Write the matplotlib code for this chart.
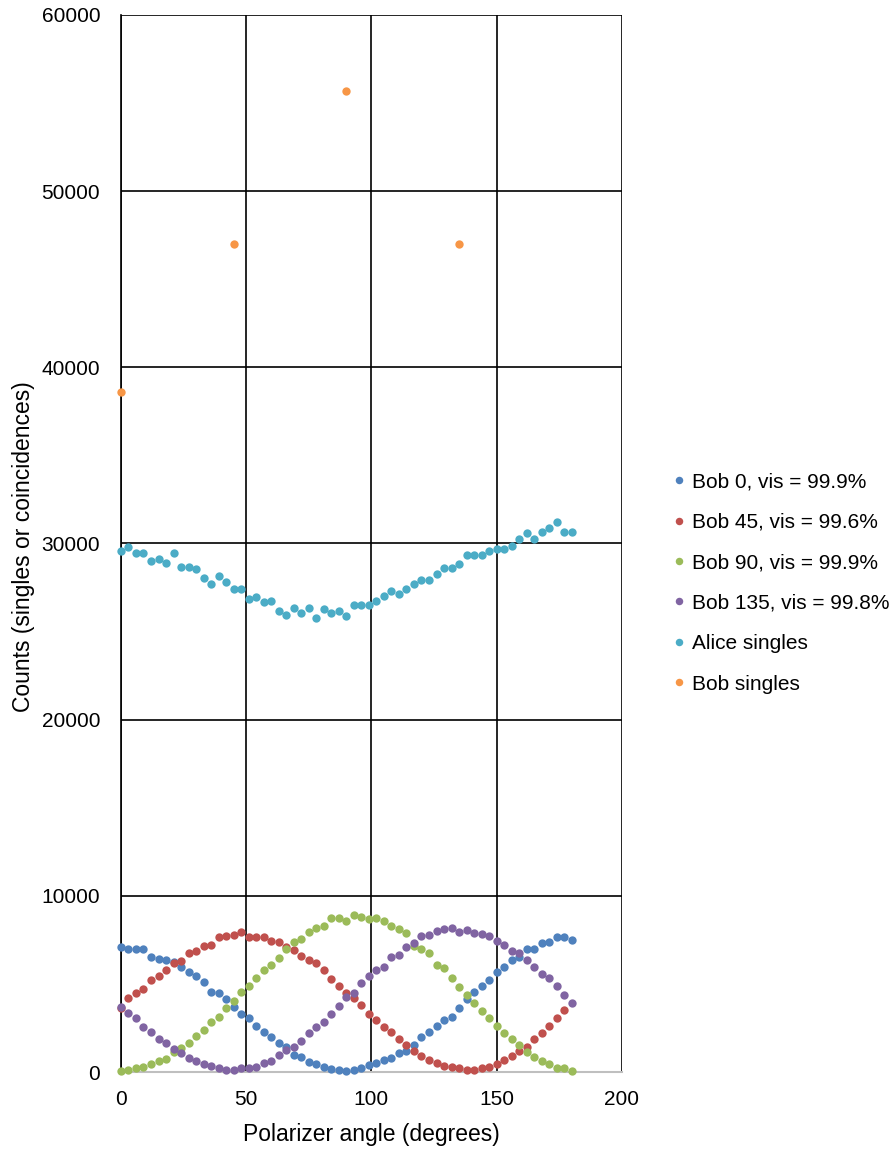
import numpy as np
import matplotlib.pyplot as plt

plt.rcParams['font.family'] = ['Liberation Sans', 'DejaVu Sans']

# Polarizer angles (degrees)
angle = np.arange(0, 181, 3)
angle_red = np.arange(0, 178, 3)
angle_bob_singles = [0, 45, 90, 135]

# Coincidence counts for each Bob setting
bob_0 = [7100, 6980, 6980, 6980, 6550, 6410, 6360, 6260, 5980, 5660, 5450, 5130, 4560, 4470, 4140, 3710, 3270,
         3050, 2610, 2290, 1970, 1630, 1440, 970, 870, 590, 440, 300, 170, 110, 80, 110, 245, 400,
         530, 680, 780, 1100, 1210, 1530, 1970, 2290, 2610, 2950, 3140, 3610, 4140, 4560, 4880, 5220, 5660,
         5980, 6360, 6540, 6960, 6960, 7340, 7400, 7640, 7640, 7490]
bob_45 = [3610, 4180, 4470, 4710, 5220, 5450, 5790, 6200, 6300, 6770, 6870, 7170, 7210, 7640, 7720, 7780, 7960,
          7680, 7640, 7640, 7430, 7400, 7110, 6920, 6600, 6360, 6170, 5790, 5260, 4880, 4470, 4180, 3800, 3270,
          2950, 2540, 2290, 1860, 1530, 1210, 910, 680, 530, 340, 265, 210, 115, 115, 210, 300, 450,
          680, 910, 1210, 1440, 1860, 2200, 2610, 3050, 3500]
bob_90 = [75, 115, 210, 300, 450, 625, 740, 1150, 1340, 1630, 2060, 2380, 2820, 3140, 3610, 4030, 4560,
          4880, 5320, 5790, 6070, 6450, 6980, 7400, 7530, 7960, 8190, 8300, 8720, 8720, 8590, 8910, 8810, 8670,
          8720, 8590, 8300, 8100, 7870, 7150, 6960, 6770, 6070, 5890, 5350, 4810, 4370, 3900, 3480, 3080, 2630,
          2200, 1860, 1530, 1150, 870, 625, 450, 210, 210, 75]
bob_135 = [3710, 3370, 3050, 2540, 2290, 1860, 1630, 1290, 1100, 780, 625, 450, 340, 210, 115, 115, 210,
           210, 300, 490, 625, 965, 1250, 1440, 1760, 2200, 2570, 2850, 3270, 3750, 4280, 4470, 5030, 5450,
           5790, 5980, 6540, 6640, 7110, 7340, 7720, 7780, 8000, 8100, 8160, 7960, 8060, 7870, 7830, 7740, 7430,
           7210, 6880, 6770, 6360, 5980, 5550, 5350, 4880, 4370, 3900]
alice_singles = [29570, 29810, 29440, 29440, 29020, 29110, 28900, 29440, 28680, 28680, 28550, 28020, 27700, 28150,
                 27830, 27400, 27400,
                 26830, 26940, 26690, 26730, 26160, 25940, 26320, 26070, 26320, 25780, 26260, 26030, 26180,
                 25880, 26500, 26500, 26500,
                 26750, 27030, 27300, 27130, 27400, 27700, 27920, 27920, 28250, 28590, 28590, 28810, 29340,
                 29340, 29340, 29570, 29680,
                 29680, 29870, 30230, 30570, 30230, 30660, 30860, 31200, 30660, 30660]
bob_singles = [38600, 47000, 55700, 47000]

series = [
    (angle, bob_0, '#4F81BD', 'Bob 0, vis = 99.9%'),
    (angle_red, bob_45, '#C0504D', 'Bob 45, vis = 99.6%'),
    (angle, bob_90, '#9BBB59', 'Bob 90, vis = 99.9%'),
    (angle, bob_135, '#8064A2', 'Bob 135, vis = 99.8%'),
    (angle, alice_singles, '#4BACC6', 'Alice singles'),
    (angle_bob_singles, bob_singles, '#F79646', 'Bob singles'),
]

fig = plt.figure(figsize=(8.96, 11.5), dpi=100)
ax = fig.add_axes([0.135, 0.0678, 0.559, 0.9192])

for x, y, c, lab in series:
    ax.plot(x, y, 'o', color=c, markersize=6, markeredgewidth=0, label=lab, clip_on=False, zorder=3)

ax.set_xlim(0, 200)
ax.set_ylim(0, 60000)
ax.set_xticks(np.arange(0, 201, 50))
ax.set_yticks(np.arange(0, 60001, 10000))
ax.grid(True, color='black', linewidth=1.2)
ax.set_axisbelow(True)
ax.tick_params(length=0, labelsize=15, pad=13)
ax.tick_params(axis='y', pad=15)

for side in ['top', 'right']:
    ax.spines[side].set_visible(False)
ax.spines['left'].set_linewidth(1.2)
ax.spines['bottom'].set_color('#BFBFBF')
ax.spines['bottom'].set_linewidth(1.5)
ax.spines['bottom'].set_zorder(2.5)

ax.set_xlabel('Polarizer angle (degrees)', fontsize=16.5)
ax.set_ylabel('Counts (singles or coincidences)', fontsize=16.5)
ax.xaxis.set_label_coords(0.5, -0.048)
ax.yaxis.set_label_coords(-0.172, 0.497)

ax.legend(loc='center left', bbox_to_anchor=(1.0846, 0.4626), frameon=False, fontsize=15,
          borderaxespad=0, handletextpad=0.35, handlelength=0.6, labelspacing=1.03, markerscale=0.9)

fig.savefig('out.png', dpi=100)
